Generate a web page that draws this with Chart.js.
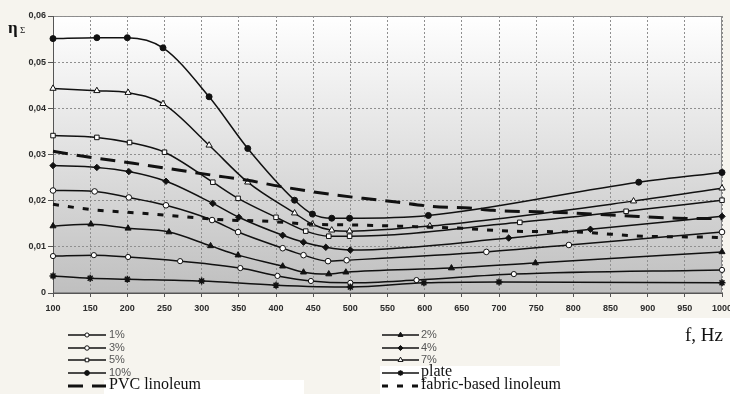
<!DOCTYPE html>
<html>
<head>
<meta charset="utf-8">
<script src="https://cdn.jsdelivr.net/npm/chart.js@4.4.1/dist/chart.umd.min.js"></script>
<style>
  html, body { margin: 0; padding: 0; background: #f6f4ee; }
  #wrap { width: 730px; height: 394px; position: relative; }
</style>
</head>
<body>
<div id="wrap"><canvas id="chart" width="730" height="394"></canvas></div>
<script>
// frequency ticks (Hz) and loss-factor ticks
var xTicks = [100, 150, 200, 250, 300, 350, 400, 450, 500, 550, 600, 650, 700, 750, 800, 850, 900, 950, 1000];
var yTicks = [0, 0.01, 0.02, 0.03, 0.04, 0.05, 0.06];

// series: f (Hz) and eta
var f10 = [100, 159, 200, 248, 310, 362, 425, 449, 475, 499, 605, 888, 1000];
var eta10 = [0.0551, 0.0553, 0.0553, 0.0531, 0.0425, 0.0313, 0.0201, 0.0171, 0.0162, 0.0162, 0.0168, 0.0240, 0.0261];

var f7 = [100, 159, 201, 248, 310, 362, 425, 449, 475, 499, 607, 881, 1000];
var eta7 = [0.0443, 0.0438, 0.0434, 0.0410, 0.0320, 0.0240, 0.0173, 0.0149, 0.0136, 0.0134, 0.0145, 0.0199, 0.0227];

var f5 = [100, 159, 203, 250, 315, 349, 400, 440, 471, 499, 728, 871, 1000];
var eta5 = [0.0341, 0.0337, 0.0326, 0.0305, 0.0240, 0.0205, 0.0164, 0.0134, 0.0123, 0.0123, 0.0153, 0.0177, 0.0201];

var f4 = [100, 159, 202, 252, 315, 350, 409, 437, 467, 500, 713, 823, 1000];
var eta4 = [0.0276, 0.0272, 0.0263, 0.0242, 0.0194, 0.0164, 0.0125, 0.0110, 0.0099, 0.0093, 0.0119, 0.0138, 0.0166];

var f3 = [100, 156, 202, 252, 314, 349, 409, 437, 470, 495, 683, 794, 1000];
var eta3 = [0.0222, 0.0220, 0.0207, 0.0190, 0.0158, 0.0132, 0.0097, 0.0082, 0.0069, 0.0071, 0.0089, 0.0104, 0.0132];

var f2 = [100, 151, 201, 256, 312, 349, 409, 437, 471, 494, 636, 749, 1000];
var eta2 = [0.0145, 0.0149, 0.0140, 0.0132, 0.0102, 0.0082, 0.0058, 0.0045, 0.0041, 0.0045, 0.0054, 0.0065, 0.0089];

var f1 = [100, 155, 201, 271, 352, 402, 447, 500, 589, 720, 1000];
var eta1 = [0.0080, 0.0082, 0.0078, 0.0069, 0.0054, 0.0037, 0.0026, 0.0022, 0.0028, 0.0041, 0.0050];

var fPlate = [100, 150, 200, 300, 400, 500, 599, 700, 1000];
var etaPlate = [0.0037, 0.0032, 0.0030, 0.0026, 0.0017, 0.0013, 0.0022, 0.0024, 0.0022];

var fPvc = [100, 141, 208, 315, 362, 405, 472, 517, 562, 607, 660, 692, 772, 862, 939, 1000];
var etaPvc = [0.0307, 0.0296, 0.0281, 0.0255, 0.0244, 0.0231, 0.0214, 0.0205, 0.0197, 0.0188, 0.0184, 0.0179, 0.0175, 0.0168, 0.0162, 0.0161];

var fFabric = [100, 150, 217, 271, 334, 381, 449, 517, 562, 651, 714, 804, 893, 980, 1000];
var etaFabric = [0.0192, 0.0181, 0.0173, 0.0166, 0.0158, 0.0156, 0.0149, 0.0147, 0.0145, 0.0140, 0.0134, 0.0132, 0.0123, 0.0121, 0.0120];

var legendLeft = ["1%", "3%", "5%", "10%", "PVC linoleum"];
var legendRight = ["2%", "4%", "7%", "plate", "fabric-based linoleum"];

var INK = "#111";

function pts(fs, vs) {
  return fs.map(function (f, i) { return { x: f, y: vs[i] }; });
}

function series(label, fs, vs, style) {
  var base = {
    label: label,
    data: pts(fs, vs),
    borderColor: INK,
    borderWidth: 1.5,
    fill: false,
    cubicInterpolationMode: "monotone",
    pointRadius: 3,
    pointBorderColor: INK,
    pointBorderWidth: 1,
    pointBackgroundColor: "#fff",
    clip: false
  };
  return Object.assign(base, style || {});
}

var datasets = [
  series("PVC linoleum", fPvc, etaPvc, { borderWidth: 3, borderDash: [15, 9], pointRadius: 0 }),
  series("fabric-based linoleum", fFabric, etaFabric, { borderWidth: 3, borderDash: [6, 9], pointRadius: 0 }),
  series("plate", fPlate, etaPlate, { pointStyle: "star", pointRadius: 3.5, pointBorderWidth: 1.5 }),
  series("1%", f1, eta1, { pointStyle: "circle", pointRadius: 2.6 }),
  series("2%", f2, eta2, { pointStyle: "triangle", pointRadius: 3.5, pointBackgroundColor: INK }),
  series("3%", f3, eta3, { pointStyle: "circle", pointRadius: 2.8 }),
  series("4%", f4, eta4, { pointStyle: "rectRot", pointRadius: 3.2, pointBackgroundColor: INK }),
  series("5%", f5, eta5, { pointStyle: "rect", pointRadius: 3.2 }),
  series("7%", f7, eta7, { pointStyle: "triangle", pointRadius: 3.6 }),
  series("10%", f10, eta10, { pointStyle: "circle", pointRadius: 3, pointBackgroundColor: INK })
];

function findSet(chart, label) {
  var list = chart.data.datasets;
  for (var i = 0; i < list.length; i++) if (list[i].label === label) return list[i];
  return null;
}

function drawLegendItem(ctx, ds, x0, x1, y, tx) {
  ctx.save();
  ctx.strokeStyle = INK;
  ctx.lineWidth = ds.borderWidth;
  ctx.setLineDash(ds.borderDash || []);
  ctx.beginPath();
  ctx.moveTo(x0, y);
  ctx.lineTo(x1, y);
  ctx.stroke();
  ctx.setLineDash([]);
  if (ds.pointRadius > 0) {
    ctx.fillStyle = ds.pointBackgroundColor;
    ctx.strokeStyle = INK;
    ctx.lineWidth = ds.pointBorderWidth;
    Chart.helpers.drawPoint(ctx, {
      pointStyle: ds.pointStyle,
      radius: ds.pointRadius * 0.8,
      borderWidth: ds.pointBorderWidth,
      rotation: 0
    }, (x0 + x1) / 2, y);
  }
  var isPct = /%$/.test(ds.label);
  ctx.font = isPct ? '11px "Liberation Sans"' : '16px "Liberation Serif"';
  ctx.fillStyle = isPct ? "#555" : "#111";
  ctx.textBaseline = "middle";
  ctx.textAlign = "left";
  ctx.fillText(ds.label, tx, y + (isPct ? 0 : -1));
  ctx.restore();
}

var decor = {
  id: "decor",
  beforeDraw: function (chart) {
    var ctx = chart.ctx, a = chart.chartArea;
    ctx.save();
    ctx.fillStyle = "#f6f4ee";
    ctx.fillRect(0, 0, chart.width, chart.height);
    ctx.fillStyle = "#ffffff";
    ctx.fillRect(560, 318, 170, 76);
    ctx.fillRect(380, 366, 180, 28);
    ctx.fillRect(104, 380, 200, 14);
    var g = ctx.createLinearGradient(0, a.top, 0, a.bottom);
    g.addColorStop(0, "#ffffff");
    g.addColorStop(0.5, "#e0e0e0");
    g.addColorStop(1, "#bfbfbf");
    ctx.fillStyle = g;
    ctx.fillRect(a.left, a.top, a.right - a.left, a.bottom - a.top);
    ctx.strokeStyle = "#8c8c8c";
    ctx.lineWidth = 1;
    ctx.strokeRect(a.left + 0.5, a.top + 0.5, a.right - a.left - 1, a.bottom - a.top - 1);
    ctx.restore();
  },
  afterDraw: function (chart) {
    var ctx = chart.ctx;
    var rows = [335, 348, 360, 373, 386];
    legendLeft.forEach(function (lab, i) {
      var ds = findSet(chart, lab);
      if (ds) drawLegendItem(ctx, ds, 68, 106, rows[i], 109);
    });
    legendRight.forEach(function (lab, i) {
      var ds = findSet(chart, lab);
      if (ds) drawLegendItem(ctx, ds, 382, 419, rows[i], 421);
    });

    ctx.save();
    ctx.fillStyle = "#111";
    ctx.textBaseline = "alphabetic";
    ctx.textAlign = "right";
    ctx.font = '19px "Liberation Serif"';
    ctx.fillText("f, Hz", 723, 341);
    ctx.textAlign = "left";
    ctx.font = 'bold 17px "Liberation Serif"';
    ctx.fillText("η", 8, 33);
    ctx.font = '9px "Liberation Serif"';
    ctx.fillText("Σ", 20, 33);
    ctx.restore();
  }
};

var tickFont = { family: "Liberation Sans", size: 9, weight: "bold" };

new Chart(document.getElementById("chart"), {
  type: "line",
  data: { datasets: datasets },
  options: {
    responsive: false,
    animation: false,
    layout: { padding: { left: 0, right: 8, top: 16, bottom: 81 } },
    plugins: { legend: { display: false }, tooltip: { enabled: false } },
    scales: {
      x: {
        type: "linear",
        min: xTicks[0],
        max: xTicks[xTicks.length - 1],
        afterBuildTicks: function (scale) {
          scale.ticks = xTicks.map(function (v) { return { value: v }; });
        },
        afterFit: function (scale) {
          scale.height = 20;
          scale.paddingLeft = 0;
          scale.paddingRight = 0;
        },
        ticks: {
          autoSkip: false,
          maxRotation: 0,
          padding: 6,
          color: "#2b2b2b",
          font: tickFont,
          callback: function (v) { return String(v); }
        },
        grid: { color: "#8f8f8f", lineWidth: 1, tickLength: 4, tickColor: "#555" },
        border: { display: true, color: "#555", width: 1, dash: [2, 2] }
      },
      y: {
        min: yTicks[0],
        max: yTicks[yTicks.length - 1],
        afterBuildTicks: function (scale) {
          scale.ticks = yTicks.map(function (v) { return { value: v }; });
        },
        afterFit: function (scale) {
          scale.width = 53;
          scale.paddingTop = 0;
          scale.paddingBottom = 0;
        },
        ticks: {
          padding: 2,
          color: "#2b2b2b",
          font: tickFont,
          callback: function (v) { return v === 0 ? "0" : v.toFixed(2).replace(".", ","); }
        },
        grid: { color: "#8f8f8f", lineWidth: 1, tickLength: 5, tickColor: "#555" },
        border: { display: true, color: "#555", width: 1, dash: [2, 2] }
      }
    }
  },
  plugins: [decor]
});
</script>
</body>
</html>
